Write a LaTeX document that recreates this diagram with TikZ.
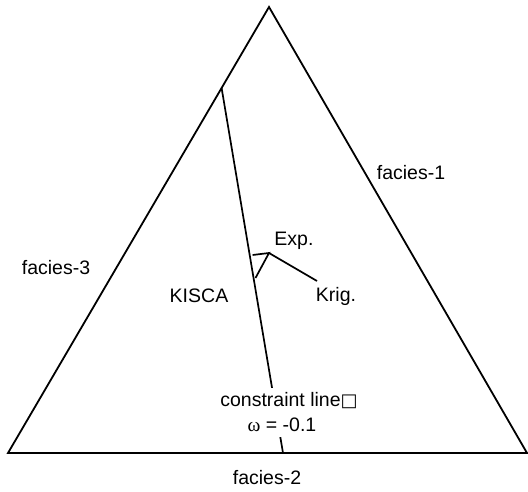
\documentclass[tikz,border=0pt]{standalone}
\usepackage{fontspec}
\setmainfont{Liberation Sans}
\newfontfamily\symfont{DejaVu Sans}
\newfontfamily\serfont{Liberation Serif}
\begin{document}
\begin{tikzpicture}[x=1pt,y=-1pt,
  edge/.style={line width=1.8pt,line join=miter,line cap=butt},
  thin/.style={line width=1.7pt},
  lbl/.style={inner sep=0pt,font=\fontsize{19.5}{22}\selectfont},
  masked/.style={lbl,fill=white,inner xsep=1pt,inner ysep=5pt}]
\useasboundingbox (0,0) rectangle (528,492);
\coordinate (A) at (269,7);
\coordinate (B) at (8,453);
\coordinate (C) at (527,453);
\coordinate (L1) at (221.6,88);
\coordinate (L2) at (283,453);
\coordinate (E) at (269,253);
\coordinate (P1) at (252.6,255);
\coordinate (P2) at (255.5,278);
\coordinate (K) at (317,281);
\draw[edge] (A) -- (B) -- (C) -- cycle;
\draw[thin] (L1) -- (L2);
\draw[thin] (P1) -- (E) -- (P2);
\draw[thin] (E) -- (K);
\node[lbl] (f1) at (411,173) {facies-1};
\node[lbl] (f3) at (56,268) {facies-3};
\node[lbl] (f2) at (267,478) {facies-2};
\node[lbl] (exp) at (294,241) {Exp.};
\node[lbl] (krig) at (336,296) {Krig.};
\node[lbl] (kisca) at (199,296) {KISCA};
\node[masked] (cl) at (289,401) {constraint line{\symfont\fontsize{18}{20}\selectfont □}};
\node[masked] (om) at (282,425) {{\serfont ω} = -0.1};
\end{tikzpicture}
\end{document}
